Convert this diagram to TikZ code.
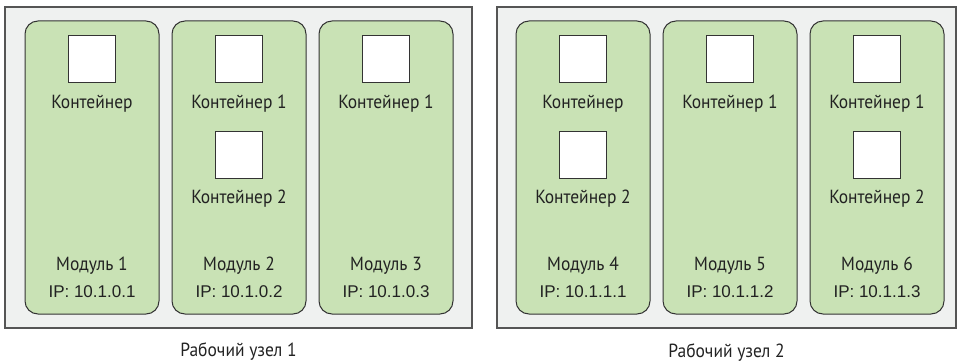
\documentclass[tikz,border=0pt]{standalone}
\usepackage{fontspec}
\setmainfont{Liberation Sans}
\newfontfamily\condfont{PT Sans}[FakeStretch=0.92]
\definecolor{nodefill}{HTML}{EFF1F0}
\definecolor{nodeline}{HTML}{555555}
\definecolor{podfill}{HTML}{C9E2B5}
\definecolor{podline}{HTML}{333333}
\definecolor{txt}{HTML}{222222}
\begin{document}
\begin{tikzpicture}[x=1pt,y=-1pt,
  worker/.style={draw=nodeline,fill=nodefill,line width=1.2pt},
  pod/.style={draw=podline,fill=podfill,line width=1pt,rounded corners=13pt},
  ctr/.style={draw=podline,fill=white,line width=1pt,minimum width=47pt,minimum height=47pt,inner sep=0pt},
  clabel/.style={font=\condfont\fontsize{19}{19}\selectfont,text=txt,inner sep=0pt},
  iplabel/.style={font=\fontsize{17}{17}\selectfont,text=txt,inner sep=0pt}]
\useasboundingbox (0,0) rectangle (960,363);
% worker nodes
\draw[worker] (5,7) rectangle (472,328);
\draw[worker] (497,7) rectangle (956,328);
\node[clabel] (w1) at (238.5,352) {Рабочий узел 1};
\node[clabel] (w2) at (726.5,353) {Рабочий узел 2};
% pods: left x, name, ip, number of containers, first container label
\foreach \x/\n/\ip/\k/\la in {25/1/10.1.0.1/1/Контейнер, 172/2/10.1.0.2/2/Контейнер 1, 319/3/10.1.0.3/1/Контейнер 1,
                               516/4/10.1.1.1/2/Контейнер, 663/5/10.1.1.2/1/Контейнер 1, 810/6/10.1.1.3/2/Контейнер 1}{
  \draw[pod] (\x,21) rectangle ++(134,293);
  \pgfmathsetmacro{\cx}{\x+67}
  \node[ctr] (c\n a) at (\cx,59.5) {};
  \node[clabel] (l\n a) at (\cx,104) {\la};
  \ifnum\k=2
    \node[ctr] (c\n b) at (\cx,155) {};
    \node[clabel] (l\n b) at (\cx,199) {Контейнер 2};
  \fi
  \node[clabel] (m\n) at (\cx,266) {Модуль \n};
  \node[iplabel] (ip\n) at (\cx,292) {IP: \ip};
}
\end{tikzpicture}
\end{document}
